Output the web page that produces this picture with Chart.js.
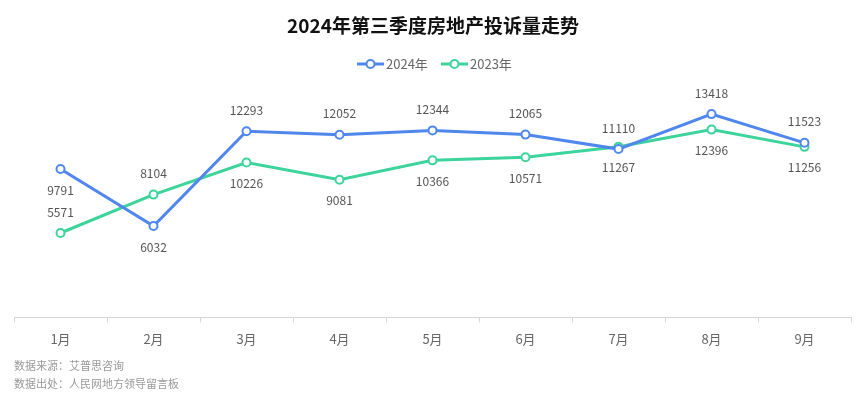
<!DOCTYPE html>
<html>
<head>
<meta charset="utf-8">
<script src="https://cdn.jsdelivr.net/npm/chart.js@4.4.1/dist/chart.umd.min.js"></script>
<style>
html,body{margin:0;padding:0;background:#fff;}
#wrap{width:867px;height:397px;position:relative;}
</style>
</head>
<body>
<div id="wrap"><canvas id="c" width="867" height="397"></canvas></div>
<script>
const categories = ['1月','2月','3月','4月','5月','6月','7月','8月','9月'];
const values2024 = [9791, 6032, 12293, 12052, 12344, 12065, 11110, 13418, 11523];
const values2023 = [5571, 8104, 10226, 9081, 10366, 10571, 11267, 12396, 11256];
const labelSide2024 = ['below','below','above','above','above','above','above','above','above'];
const labelSide2023 = ['above','above','below','below','below','below','below','below','below'];
const seriesNames = ['2024年','2023年'];
const titleText = '2024年第三季度房地产投诉量走势';
const notes = ['数据来源：艾普思咨询','数据出处：人民网地方领导留言板'];

const BLUE = '#4F87EE';
const GREEN = '#3DD49B';
const FONT = '"Noto Sans CJK SC", "Noto Sans", sans-serif';

const decor = {
  id: 'decor',
  afterDraw(chart) {
    const ctx = chart.ctx;
    ctx.save();
    // title
    ctx.fillStyle = '#111';
    ctx.font = 'bold 19px ' + FONT;
    ctx.textAlign = 'center';
    ctx.textBaseline = 'middle';
    ctx.fillText(titleText, 433, 26);
    // legend
    const items = [{x: 357, c: BLUE, t: seriesNames[0]}, {x: 441, c: GREEN, t: seriesNames[1]}];
    items.forEach(it => {
      ctx.strokeStyle = it.c;
      ctx.lineWidth = 3;
      ctx.beginPath();
      ctx.moveTo(it.x, 64); ctx.lineTo(it.x + 27, 64); ctx.stroke();
      ctx.beginPath();
      ctx.arc(it.x + 13.5, 64, 4, 0, Math.PI * 2);
      ctx.fillStyle = '#fff'; ctx.fill();
      ctx.lineWidth = 2; ctx.stroke();
      ctx.fillStyle = '#666';
      ctx.font = '13px ' + FONT;
      ctx.textAlign = 'left';
      ctx.fillText(it.t, it.x + 29, 64);
    });
    // notes
    ctx.fillStyle = '#999';
    ctx.font = '11px ' + FONT;
    ctx.textAlign = 'left';
    ctx.fillText(notes[0], 14, 366);
    ctx.fillText(notes[1], 14, 384);
    ctx.restore();
  },
  afterDatasetsDraw(chart) {
    const ctx = chart.ctx;
    ctx.save();
    ctx.font = '12px ' + FONT;
    ctx.fillStyle = '#555';
    ctx.textAlign = 'center';
    ctx.textBaseline = 'middle';
    const sides = [labelSide2024, labelSide2023];
    chart.data.datasets.forEach((ds, di) => {
      const meta = chart.getDatasetMeta(di);
      meta.data.forEach((pt, i) => {
        const off = sides[di][i] === 'above' ? -21 : 21;
        ctx.fillText(String(ds.data[i]), pt.x, pt.y + off);
      });
    });
    ctx.restore();
  }
};

new Chart(document.getElementById('c'), {
  type: 'line',
  data: {
    labels: categories,
    datasets: [
      {label: seriesNames[0], data: values2024, borderColor: BLUE, backgroundColor: '#fff',
       borderWidth: 3, pointRadius: 4, pointBorderWidth: 2, pointBackgroundColor: '#fff',
       pointBorderColor: BLUE, tension: 0},
      {label: seriesNames[1], data: values2023, borderColor: GREEN, backgroundColor: '#fff',
       borderWidth: 3, pointRadius: 4, pointBorderWidth: 2, pointBackgroundColor: '#fff',
       pointBorderColor: GREEN, tension: 0}
    ]
  },
  options: {
    responsive: false,
    animation: false,
    layout: {padding: {left: 14, right: 16, top: 75, bottom: 41}},
    plugins: {legend: {display: false}, title: {display: false}, tooltip: {enabled: false}},
    scales: {
      x: {
        offset: true,
        grid: {offset: true, drawOnChartArea: false, drawTicks: true, tickLength: 5, color: '#d6d6d6'},
        border: {display: true, color: '#d6d6d6', width: 1},
        ticks: {color: '#666', font: {size: 13, family: FONT}, padding: 9, maxRotation: 0}
      },
      y: {display: false, min: 0, max: 16000}
    }
  },
  plugins: [decor]
});
</script>
</body>
</html>
